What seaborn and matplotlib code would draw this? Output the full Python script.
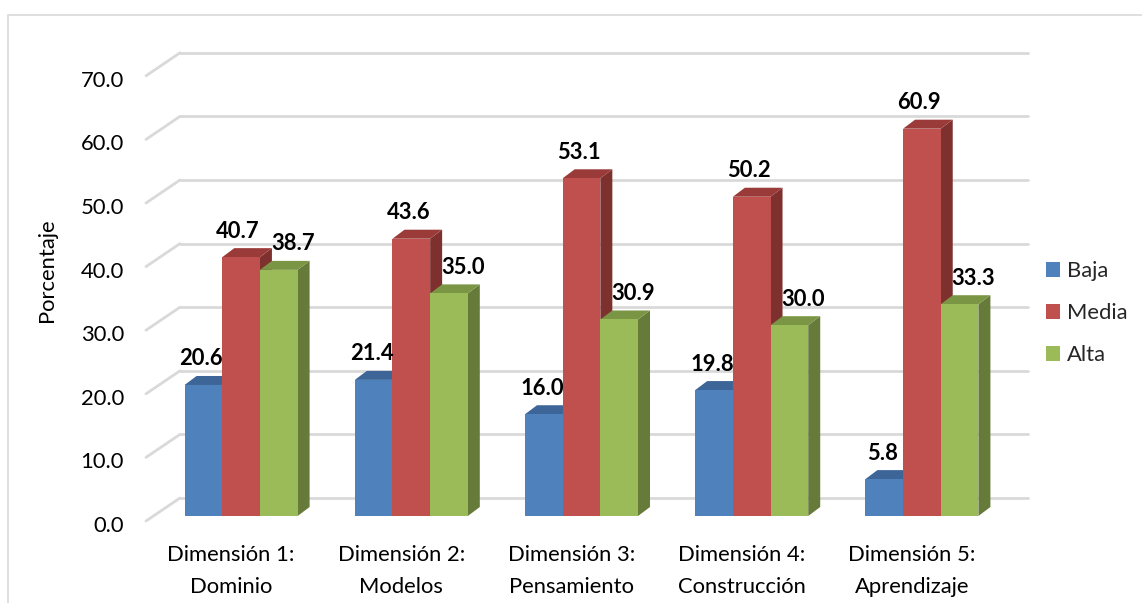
import pandas as pd
import matplotlib
matplotlib.use("Agg")
import matplotlib.pyplot as plt
import seaborn as sns
from matplotlib.patches import Polygon, Patch, Rectangle
from matplotlib.lines import Line2D
from matplotlib.transforms import IdentityTransform, ScaledTranslation


# Data
categories = ["Dimensión 1:\nDominio", "Dimensión 2:\nModelos", "Dimensión 3:\nPensamiento",
              "Dimensión 4:\nConstrucción", "Dimensión 5:\nAprendizaje"]
levels = ["Baja", "Media", "Alta"]
baja = [20.6, 21.4, 16.0, 19.8, 5.8]
media = [40.7, 43.6, 53.1, 50.2, 60.9]
alta = [38.7, 35.0, 30.9, 30.0, 33.3]
y_ticks = [0, 10, 20, 30, 40, 50, 60, 70]

# Styles
front_colors = ["#4F81BD", "#C0504D", "#9BBB59"]
top_colors = ["#3D6597", "#9A3B39", "#7A9644"]
side_colors = ["#385D8A", "#7E302E", "#667B3A"]
label_dx = [-2, -3, 14]          # px, Excel nudges the green labels right
DX, DY = 12, 9                   # bar depth in px
GRID = "#D9D9D9"
FS = 15.8

df = pd.DataFrame({
    "Dimension": categories * 3,
    "Nivel": [lv for lv in levels for _ in categories],
    "Porcentaje": baja + media + alta,
})

sns.set_theme(style="white")
plt.rcParams["font.family"] = ["Lato", "DejaVu Sans"]

W, H = 1142, 603
fig = plt.figure(figsize=(W / 100, H / 100), dpi=100)
ax = fig.add_axes([156 / W, (H - 516) / H, 851 / W, 445.2 / H])

sns.barplot(df, x="Dimension", y="Porcentaje", hue="Nivel", order=categories,
            hue_order=levels, palette=front_colors, saturation=1, width=0.664,
            gap=0, linewidth=0, legend=False, ax=ax)

ax.set_xlim(-0.5, 4.5)
ax.set_ylim(0, 70)
sns.despine(ax=ax, left=True, bottom=True)
ax.set_xlabel("")
ax.set_ylabel("")
ax.set_yticks(y_ticks)
ax.set_yticklabels([f"{t:.1f}" for t in y_ticks], fontsize=FS, color="black")
ax.tick_params(axis="y", length=0, pad=23)
ax.tick_params(axis="x", length=0, pad=21, labelsize=FS, labelcolor="black")
for lab in ax.get_yticklabels():
    lab.set_transform(lab.get_transform() + ScaledTranslation(0, -8 / 100, fig.dpi_scale_trans))
for lab in ax.get_xticklabels():
    lab.set_linespacing(1.75)
    lab.set_transform(lab.get_transform() + ScaledTranslation(-10 / 100, 0, fig.dpi_scale_trans))

# 3D-ish gridlines: back wall + diagonal floor edge
bb = ax.get_window_extent()
ident = IdentityTransform()
for t in y_ticks:
    yb = ax.transData.transform((0, t))[1] + 18
    ax.add_line(Line2D([bb.x0 + 24, bb.x1 + 21], [yb, yb], transform=ident,
                       color=GRID, lw=2, clip_on=False, zorder=0.5))
    ax.add_line(Line2D([bb.x0 - 10, bb.x0 + 24], [yb - 23, yb], transform=ident,
                       color=GRID, lw=2, clip_on=False, zorder=0.5))

# Depth faces and labels
for k, cont in enumerate(ax.containers):
    for rect in cont:
        rect.set_zorder(2 + k * 0.1 + 0.05)
        x0, w, h = rect.get_x(), rect.get_width(), rect.get_height()
        xl, yt = ax.transData.transform((x0, h))
        xr, yb = ax.transData.transform((x0 + w, 0))
        top = Polygon([(xl, yt), (xr, yt), (xr + DX, yt + DY), (xl + DX, yt + DY)],
                      closed=True, transform=ident, facecolor=top_colors[k],
                      edgecolor="none", zorder=2 + k * 0.1, clip_on=False)
        side = Polygon([(xr, yb), (xr, yt), (xr + DX, yt + DY), (xr + DX, yb + DY)],
                       closed=True, transform=ident, facecolor=side_colors[k],
                       edgecolor="none", zorder=2 + k * 0.1, clip_on=False)
        ax.add_patch(side)
        ax.add_patch(top)
        ax.annotate(f"{h:.1f}", xy=(x0 + w / 2, h),
                    xytext=(label_dx[k] * 0.72, 26 * 0.72), textcoords="offset points",
                    ha="center", va="center", fontsize=FS, fontweight="bold",
                    color="black", zorder=5, annotation_clip=False)

fig.text(47 / W, 1 - 270 / H, "Porcentaje", rotation=90, ha="center", va="center",
         fontsize=FS, color="black")

handles = [Patch(facecolor=c, edgecolor="none") for c in front_colors]
fig.legend(handles, levels, loc="center left", bbox_to_anchor=(1046 / W, 1 - 313 / H),
           frameon=False, fontsize=FS, handlelength=0.65, handleheight=0.65,
           handletextpad=0.3, labelspacing=1.0, borderpad=0, borderaxespad=0)

# Outer chart border
fig.patches.append(Rectangle((8, -10), W, H - 15 + 10, transform=ident, fill=False,
                             edgecolor="#D9D9D9", lw=1.2))

fig.savefig("out.png", dpi=100)
